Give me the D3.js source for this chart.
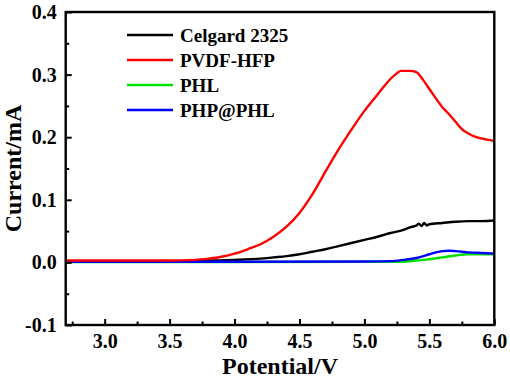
<!DOCTYPE html>
<html><head><meta charset="utf-8">
<script src="https://cdn.jsdelivr.net/npm/d3@7/dist/d3.min.js"></script>
<style>body{margin:0;background:#fff}svg{display:block}text{font-family:"Liberation Serif","Times New Roman",serif;font-weight:bold;fill:#000}</style>
</head><body><svg id="c" width="510" height="379"></svg>
<script>
const seriesNames = ["Celgard 2325","PVDF-HFP","PHL","PHP@PHL"];
const seriesColors = ["#000000","#ff0000","#00e000","#0000ff"];
const celgardV = [2.7,3.5,3.8,4.0,4.2,4.3,4.4,4.5,4.6,4.7,4.8,4.9,5.0,5.1,5.2,5.3,5.35,5.4,5.42,5.44,5.46,5.48,5.5,5.6,5.7,5.8,5.9,6.0];
const celgardI = [0.002,0.002,0.003,0.004,0.006,0.008,0.010,0.013,0.017,0.021,0.026,0.031,0.036,0.041,0.047,0.052,0.056,0.059,0.062,0.058,0.063,0.059,0.061,0.063,0.065,0.066,0.066,0.067];
const pvdfV = [2.7,3.5,3.7,3.8,3.9,4.0,4.1,4.2,4.3,4.4,4.5,4.6,4.7,4.8,4.9,5.0,5.1,5.15,5.2,5.25,5.28,5.35,5.4,5.45,5.5,5.55,5.6,5.65,5.7,5.75,5.8,5.85,5.9,6.0];
const pvdfI = [0.003,0.003,0.004,0.006,0.009,0.014,0.021,0.029,0.041,0.057,0.079,0.109,0.145,0.180,0.212,0.242,0.268,0.281,0.293,0.302,0.306,0.306,0.304,0.292,0.277,0.262,0.248,0.237,0.225,0.213,0.206,0.201,0.198,0.194];
const phlV = [2.7,4.0,5.0,5.3,5.4,5.5,5.6,5.7,5.8,5.9,6.0];
const phlI = [0.0005,0.0006,0.0008,0.001,0.003,0.005,0.008,0.011,0.013,0.013,0.013];
const phpV = [2.7,4.0,5.0,5.2,5.3,5.4,5.5,5.55,5.6,5.65,5.7,5.8,5.9,6.0];
const phpI = [0.001,0.001,0.0015,0.002,0.004,0.007,0.013,0.016,0.018,0.0185,0.018,0.016,0.015,0.014];
const xTicks = [3.0,3.5,4.0,4.5,5.0,5.5,6.0];
const yTicks = [-0.1,0.0,0.1,0.2,0.3,0.4];

const svg = d3.select("#c");
const L=65.7,R=494.3,T=12,B=325;
const x = d3.scaleLinear().domain([2.7,6.0]).range([L,R]);
const y = d3.scaleLinear().domain([-0.1,0.4]).range([B,T]);
const fmt = d=>d.toFixed(1);

const data = [[celgardV,celgardI],[pvdfV,pvdfI],[phlV,phlI],[phpV,phpI]];
const line = d3.line().x(d=>x(d[0])).y(d=>y(d[1])).curve(d3.curveMonotoneX);
[2,0,3,1].forEach(i=>{
  const pts = data[i][0].map((v,k)=>[v,data[i][1][k]]);
  svg.append("path").attr("d",line(pts)).attr("fill","none").attr("stroke",seriesColors[i]).attr("stroke-width",2.4);
});

svg.append("g").attr("transform",`translate(0,${B})`)
  .call(d3.axisBottom(x).tickValues(xTicks).tickFormat(fmt).tickSizeInner(-6).tickSizeOuter(0).tickPadding(9));
svg.append("g").attr("transform",`translate(${L},0)`)
  .call(d3.axisLeft(y).tickValues(yTicks).tickFormat(fmt).tickSizeInner(-6).tickSizeOuter(0).tickPadding(9));
svg.append("g").attr("transform",`translate(0,${B})`)
  .call(d3.axisBottom(x).tickValues(d3.range(2.75,6.0,0.5)).tickFormat("").tickSizeInner(-3.5).tickSizeOuter(0));
svg.append("g").attr("transform",`translate(${L},0)`)
  .call(d3.axisLeft(y).tickValues(d3.range(-0.05,0.4,0.1)).tickFormat("").tickSizeInner(-3.5).tickSizeOuter(0));
svg.selectAll(".domain").remove();
svg.selectAll(".tick line").attr("stroke","#000").attr("stroke-width",2);
svg.selectAll(".tick text").style("font-size","20px").attr("fill","#000");
svg.append("rect").attr("x",L).attr("y",T).attr("width",R-L).attr("height",B-T)
  .attr("fill","none").attr("stroke","#000").attr("stroke-width",2.4);

svg.append("text").attr("x",(L+R)/2).attr("y",374).attr("text-anchor","middle").style("font-size","24px").text("Potential/V");
svg.append("text").attr("transform",`translate(21,${(T+B)/2}) rotate(-90)`).attr("text-anchor","middle").style("font-size","24px").text("Current/mA");

seriesNames.forEach((n,i)=>{
  const yy = 35 + i*25;
  svg.append("line").attr("x1",127).attr("x2",173).attr("y1",yy).attr("y2",yy).attr("stroke",seriesColors[i]).attr("stroke-width",2.6);
  svg.append("text").attr("x",180).attr("y",yy).attr("dy","0.35em").style("font-size","19px").text(n);
});
</script></body></html>
